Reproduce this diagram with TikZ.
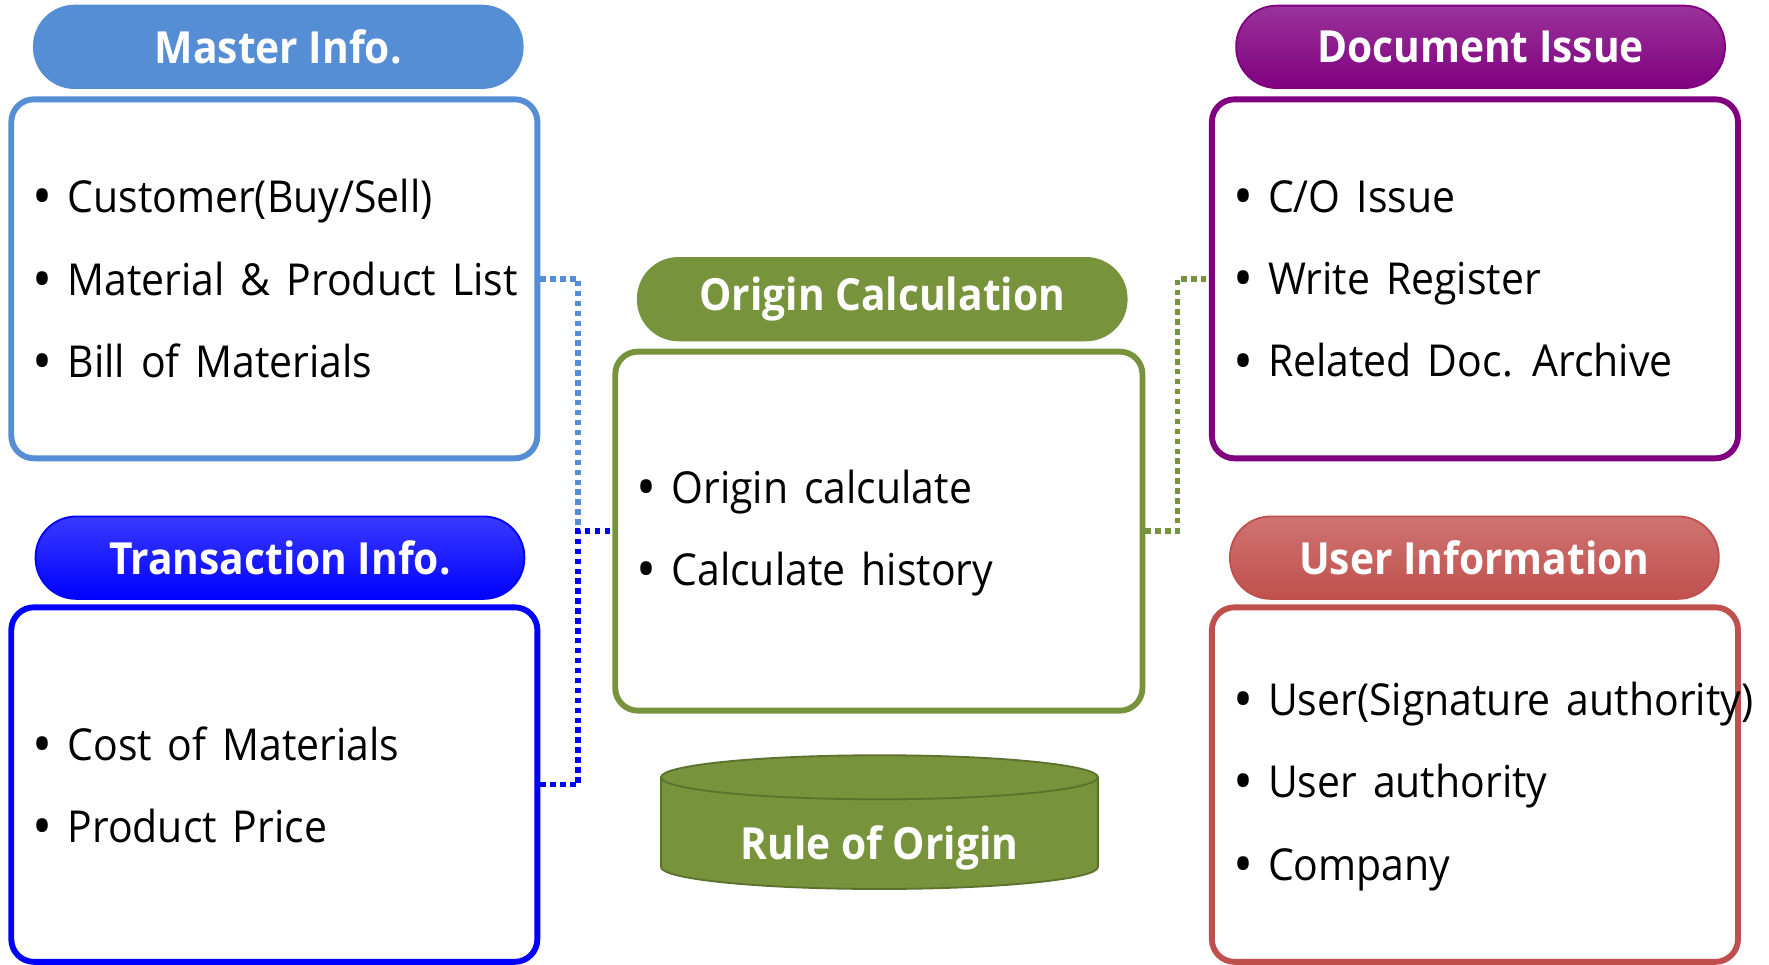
\documentclass[tikz,border=0pt]{standalone}
\usepackage{fontspec}
\setmainfont{Open Sans}[WordSpace=1.5, FakeStretch=0.93]
\newfontfamily\headfont{Open Sans}[FakeStretch=0.92]
\usetikzlibrary{calc}
\definecolor{cMaster}{RGB}{85,142,213}
\definecolor{cTrans}{RGB}{0,0,255}
\definecolor{cTransTop}{RGB}{58,58,255}
\definecolor{cOrigin}{RGB}{119,147,60}
\definecolor{cOriginDark}{RGB}{90,114,45}
\definecolor{cDoc}{RGB}{128,0,128}
\definecolor{cDocTop}{RGB}{153,51,153}
\definecolor{cUser}{RGB}{192,80,77}
\definecolor{cUserTop}{RGB}{206,116,114}
\newcommand{\bitem}[1]{\makebox[22pt][c]{\raisebox{-1.8pt}{\scalebox{1.3}{•}}}#1}
\begin{document}
\begin{tikzpicture}[x=0.5pt,y=-0.5pt,
  pill/.style={rounded corners=18pt, minimum width=216.5pt, minimum height=36.5pt,
    inner sep=0pt, font=\headfont\fontsize{19.6}{24}\selectfont\bfseries, text=white, line width=0.8pt},
  box/.style={draw, line width=2.6pt, rounded corners=10pt, minimum width=233pt,
    minimum height=159pt, inner sep=0pt, fill=white},
  list/.style={anchor=west, align=left, inner sep=0pt, yshift=-0.8pt, font=\fontsize{19.5}{36.5}\selectfont},
  dotline/.style={line width=2.4pt, dash pattern=on 2.4pt off 2pt}]
\useasboundingbox (0,0) rectangle (1567,854);

% ---------- Master Info ----------
\node[pill, fill=cMaster, draw=cMaster] (mpill) at (246.5,41.5) {Master Info.};
\node[box, draw=cMaster] (mbox) at (243,247) {};
\node[list] (mlist) at ([xshift=4pt]mbox.west) {\bitem{Customer(Buy/Sell)}\\\bitem{Material \& Product List}\\\bitem{Bill of Materials}};

% ---------- Transaction Info ----------
\node[pill, top color=cTransTop, bottom color=cTrans, draw=cTrans] (tpill) at (248,494) {Transaction Info.};
\node[box, draw=cTrans, minimum height=157pt] (tbox) at (243,695) {};
\node[list] (tlist) at ([xshift=4pt]tbox.west) {\bitem{Cost of Materials}\\\bitem{Product Price}};

% ---------- Origin Calculation ----------
\node[pill, fill=cOrigin, draw=cOrigin] (opill) at (781.5,265) {Origin Calculation};
\node[box, draw=cOrigin, minimum width=233.5pt] (obox) at (778.5,470.5) {};
\node[list] (olist) at ([xshift=4pt]obox.west) {\bitem{Origin calculate}\\\bitem{Calculate history}};

% ---------- Document Issue ----------
\node[pill, top color=cDocTop, bottom color=cDoc, draw=cDoc] (dpill) at (1311.5,41.5) {Document Issue};
\node[box, draw=cDoc] (dbox) at (1306.5,247) {};
\node[list] (dlist) at ([xshift=4pt]dbox.west) {\bitem{C/O Issue}\\\bitem{Write Register}\\\bitem{Related Doc. Archive}};

% ---------- User Information ----------
\node[pill, top color=cUserTop, bottom color=cUser, draw=cUser] (upill) at (1306,494) {User Information};
\node[box, draw=cUser, minimum height=157pt] (ubox) at (1306.5,695) {};
\node[list] (ulist) at ([xshift=4pt]ubox.west) {\bitem{User(Signature authority)}\\\bitem{User authority}\\\bitem{Company}};

% ---------- Rule of Origin (cylinder) ----------
\fill[cOrigin] (585.5,688.5) rectangle (972.5,768);
\fill[cOrigin] (779,768) ellipse [x radius=193.5, y radius=19.5];
\draw[cOriginDark, line width=0.8pt] (585.5,688.5) -- (585.5,768)
  arc[start angle=180, end angle=0, x radius=193.5, y radius=19.5] -- (972.5,688.5);
\draw[cOriginDark, line width=0.8pt, fill=cOrigin] (779,688.5) ellipse [x radius=193.5, y radius=19.5];
\node[font=\headfont\fontsize{19.6}{24}\selectfont\bfseries, text=white] (rule) at (779,751) {Rule of Origin};

% ---------- connectors ----------
\coordinate (jL) at (512,470.5);
\coordinate (jR) at (1043,470.5);
\draw[dotline, cMaster] (mbox.east) -| (jL);
\draw[dotline, cTrans] (tbox.east) -| (jL) -- (obox.west);
\draw[dotline, cOrigin] (obox.east) -- (jR) |- (dbox.west);
\end{tikzpicture}
\end{document}
